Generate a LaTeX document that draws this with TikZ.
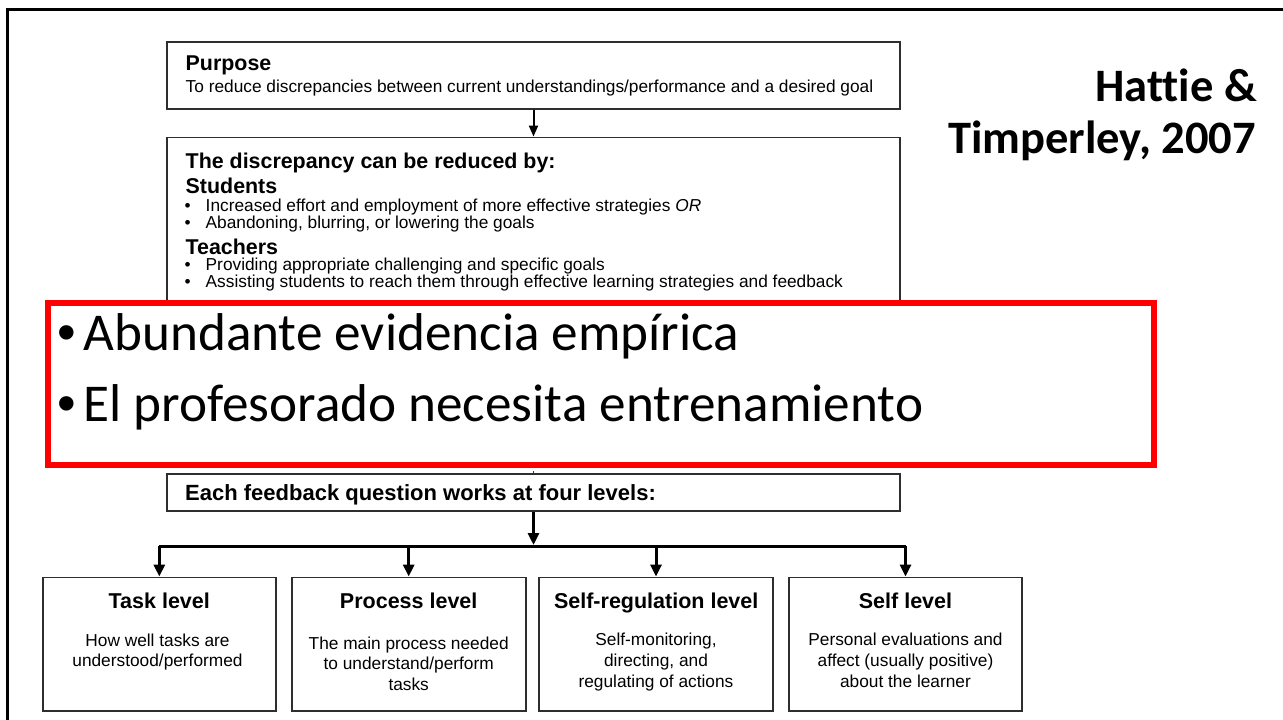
\documentclass[tikz,border=0pt]{standalone}
\usepackage{fontspec}
\setmainfont{Liberation Sans}
\newfontfamily\slidefont[Ligatures=NoCommon]{Carlito}
\usetikzlibrary{arrows.meta}
\definecolor{boxgray}{HTML}{2E2E2E}
\definecolor{slidered}{HTML}{FF0000}
\tikzset{
  box/.style={draw=boxgray, line width=1.8pt, fill=white, inner sep=0pt},
  redbox/.style={draw=slidered, line width=6pt, fill=white, inner sep=0pt},
  conn/.style={line width=3pt, black},
  thinconn/.style={line width=1.8pt, boxgray},
  arr/.style={conn, -{Triangle[length=12pt,width=11pt]}},
  smallarr/.style={line width=2pt, black, -{Triangle[length=11pt,width=9pt]}},
  txt/.style={inner sep=0pt, anchor=base west, text=black},
  ctxt/.style={inner sep=0pt, anchor=base, text=black},
  reg/.style={font=\fontsize{17.3}{17.3}\selectfont},
  hd/.style={font=\fontsize{21.4}{21.4}\selectfont\bfseries},
  ttl/.style={font=\fontsize{21.5}{21.5}\selectfont\bfseries},
  big/.style={font=\slidefont\fontsize{53.2}{53.2}\selectfont},
  bigbul/.style={font=\fontsize{53.2}{53.2}\selectfont},
  cite/.style={inner sep=0pt, anchor=base east, font=\slidefont\bfseries\fontsize{46.5}{46.5}\selectfont}
}
\begin{document}
\begin{tikzpicture}[x=1pt,y=-1pt]
\useasboundingbox (0,0) rectangle (1283,720);
\clip (0,0) rectangle (1283,720);
\fill[white] (0,0) rectangle (1283,720);
% slide frame
\draw[line width=3pt] (7.5,730) -- (7.5,9) -- (1295,9);

% Purpose box
\node[box, minimum width=733pt, minimum height=67pt] (purpose) at (533.5,75.5) {};
\node[txt, hd] (purposeT) at (185.5,70.7) {Purpose};
\node[txt, reg] (purposeB) at (185.5,92.5) {To reduce discrepancies between current understandings/performance and a desired goal};

% Discrepancy box (lower part hidden under the red box)
\node[box, minimum width=733pt, minimum height=192pt] (disc) at (533.5,233.5) {};
\node[txt, hd] (discH) at (185.5,168.5) {The discrepancy can be reduced by:};
\node[txt, hd] (stud) at (185.5,193.3) {Students};
\node[txt, reg] (s1b) at (184.5,211.7) {•};
\node[txt, reg] (s1) at (205.5,211.7) {Increased effort and employment of more effective strategies \textit{OR}};
\node[txt, reg] (s2b) at (184.5,228.3) {•};
\node[txt, reg] (s2) at (205.5,228.3) {Abandoning, blurring, or lowering the goals};
\node[txt, hd] (teach) at (185.5,254) {Teachers};
\node[txt, reg] (t1b) at (184.5,270.7) {•};
\node[txt, reg] (t1) at (205.5,270.7) {Providing appropriate challenging and specific goals};
\node[txt, reg] (t2b) at (184.5,287.3) {•};
\node[txt, reg] (t2) at (205.5,287.3) {Assisting students to reach them through effective learning strategies and feedback};

\draw[smallarr] (purpose.south) -- (disc.north);

% Feedback box
\node[box, minimum width=733pt, minimum height=37pt] (fb) at (533.5,492.5) {};
\node[txt, font=\fontsize{22}{22}\selectfont\bfseries] (fbT) at (185,500) {Each feedback question works at four levels:};

% Level boxes
\node[box, minimum width=233pt, minimum height=133.5pt] (lv1) at (159.3,644.2) {};
\node[box, minimum width=234pt, minimum height=133.5pt] (lv2) at (408.7,644.2) {};
\node[box, minimum width=233.4pt, minimum height=133.5pt] (lv3) at (656,644.2) {};
\node[box, minimum width=232.4pt, minimum height=133.5pt] (lv4) at (905.5,644.2) {};

\node[ctxt, ttl] (lv1T) at (159.3,608.3) {Task level};
\node[ctxt, reg] (lv1a) at (157.5,646.5) {How well tasks are};
\node[ctxt, reg] (lv1b) at (157.5,666) {understood/performed};

\node[ctxt, ttl] (lv2T) at (408.7,608.3) {Process level};
\node[ctxt, reg] (lv2a) at (408.7,649) {The main process needed};
\node[ctxt, reg] (lv2b) at (408.7,669.5) {to understand/perform};
\node[ctxt, reg] (lv2c) at (408.7,690) {tasks};

\node[ctxt, ttl] (lv3T) at (656.2,608.3) {Self-regulation level};
\node[ctxt, reg] (lv3a) at (656,645.5) {Self-monitoring,};
\node[ctxt, reg] (lv3b) at (656,666) {directing, and};
\node[ctxt, reg] (lv3c) at (656,687) {regulating of actions};

\node[ctxt, ttl] (lv4T) at (905.5,608.3) {Self level};
\node[ctxt, reg] (lv4a) at (905.5,645.5) {Personal evaluations and};
\node[ctxt, reg] (lv4b) at (905.5,666) {affect (usually positive)};
\node[ctxt, reg] (lv4c) at (905.5,687) {about the learner};

% Bus and arrows
\coordinate (bus) at (533.5,546);
\draw[conn] (lv1.north |- bus) -- (lv4.north |- bus);
\draw[arr, shorten >=1pt] (fb.south) -- (bus);
\draw[arr] (lv1.north |- bus) -- (lv1.north);
\draw[arr] (lv2.north |- bus) -- (lv2.north);
\draw[arr] (lv3.north |- bus) -- (lv3.north);
\draw[arr] (lv4.north |- bus) -- (lv4.north);

% Red overlay box
\node[redbox, minimum width=1105.7pt, minimum height=162pt] (red) at (600.7,384) {};
\node[ctxt, bigbul] (r1b) at (66.5,350) {•};
\node[txt, big] (r1) at (83.3,350) {Abundante evidencia empírica};
\node[ctxt, bigbul] (r2b) at (66.5,421.7) {•};
\node[txt, big] (r2) at (83.3,421.7) {El profesorado necesita entrenamiento};
\draw[thinconn] (fb.north |- red.south) ++(0,3) -- (fb.north);

% Citation
\node[cite] (cit1) at (1257,101.7) {Hattie \&};
\node[cite] (cit2) at (1256,153.3) {Timperley, 2007};
\end{tikzpicture}
\end{document}
